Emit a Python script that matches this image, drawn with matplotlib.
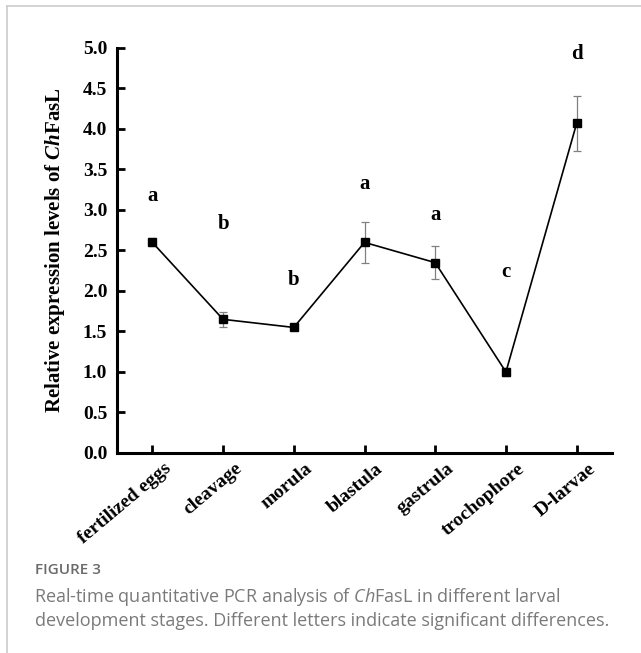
import matplotlib
matplotlib.use('Agg')
import matplotlib.pyplot as plt
from matplotlib.lines import Line2D
from matplotlib.transforms import ScaledTranslation

# Expression data per developmental stage
stages = ['fertilized eggs', 'cleavage', 'morula', 'blastula', 'gastrula', 'trochophore', 'D-larvae']
expression = [2.60, 1.65, 1.55, 2.60, 2.35, 1.00, 4.07]
errors = [0.05, 0.09, 0.02, 0.25, 0.20, 0.05, 0.34]
letters = ['a', 'b', 'b', 'a', 'a', 'c', 'd']
letter_y = [3.17, 2.83, 2.14, 3.32, 2.94, 2.23, 4.93]
y_ticks = [0.0, 0.5, 1.0, 1.5, 2.0, 2.5, 3.0, 3.5, 4.0, 4.5, 5.0]

plt.rcParams['mathtext.fontset'] = 'custom'
plt.rcParams['mathtext.bfit'] = 'Liberation Serif:italic:bold'
plt.rcParams['mathtext.it'] = 'Open Sans:italic'
plt.rcParams['mathtext.rm'] = 'Open Sans'

fig = plt.figure(figsize=(6.41, 6.53), dpi=100)
ax = fig.add_axes([0.1825, 0.3063, 0.7723, 0.6202])

x = list(range(len(stages)))
ax.errorbar(x, expression, yerr=errors, fmt='none', ecolor='#808080',
            elinewidth=0.9, capsize=3, capthick=0.9, zorder=2)
ax.plot(x, expression, color='black', linewidth=1.2, marker='s',
        markersize=5.8, markerfacecolor='black', zorder=3)

serif = dict(family='Liberation Serif', weight='bold')
for xi, lab, ly in zip(x, letters, letter_y):
    ax.text(xi, ly, lab, ha='center', va='center', fontsize=15, **serif)

ax.set_xlim(-0.5, 6.5)
ax.set_ylim(0, 5)
ax.set_yticks(y_ticks)
ax.set_yticklabels([f'{t:.1f}' for t in y_ticks], fontsize=14, **serif)
ax.set_xticks(x)
ax.set_xticklabels(stages, rotation=40, ha='right', va='top', rotation_mode='anchor',
                   fontsize=14, **serif)
ax.tick_params(direction='in', length=6, width=2)
ax.tick_params(axis='y', pad=7)
ax.tick_params(axis='x', pad=5)
shift = ScaledTranslation(8 / 72, 0, fig.dpi_scale_trans)
for lbl in ax.get_xticklabels():
    lbl.set_transform(lbl.get_transform() + shift)

for side in ['top', 'right']:
    ax.spines[side].set_visible(False)
for side in ['left', 'bottom']:
    ax.spines[side].set_linewidth(2.2)

ax.set_ylabel(r'Relative expression levels of $\mathbfit{Ch}$FasL',
              fontsize=15, labelpad=11, **serif)

# Frame lines around the figure panel
fig.add_artist(Line2D([7 / 641, 7 / 641], [0, 1 - 6 / 653], transform=fig.transFigure,
                      color='#cccccc', linewidth=1.2))
fig.add_artist(Line2D([7 / 641, 1], [1 - 6 / 653, 1 - 6 / 653], transform=fig.transFigure,
                      color='#cccccc', linewidth=1.2))

# Caption
fig.text(35 / 641, 1 - 570 / 653, 'FIGURE 3', fontsize=11, va='center',
         family='Open Sans', weight='semibold', color='#6a6a6a')
cap = dict(family='Open Sans', color='#7a7a7a')
fig.text(34 / 641, 1 - 597 / 653,
         r'Real-time quantitative PCR analysis of $\mathit{Ch}$FasL in different larval',
         fontsize=13, va='center', **cap)
fig.text(35 / 641, 1 - 621 / 653,
         'development stages. Different letters indicate significant differences.',
         fontsize=13, va='center', **cap)

fig.savefig('out.png', dpi=100)
